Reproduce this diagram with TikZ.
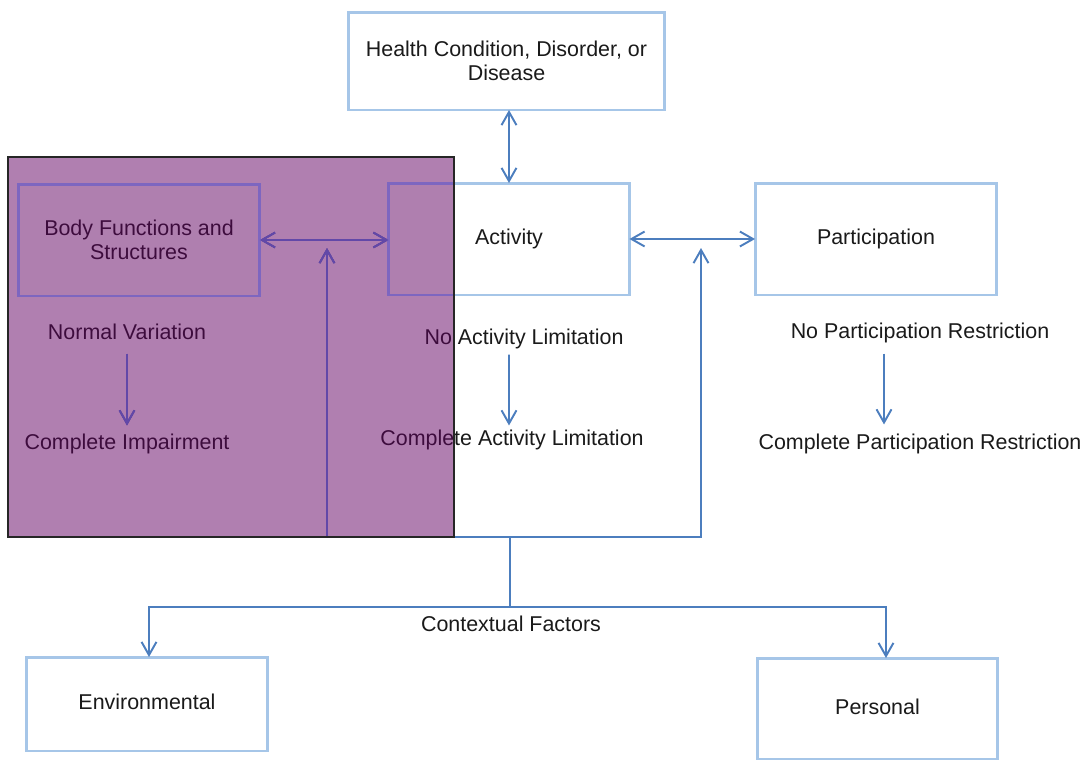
\documentclass[tikz,border=0pt]{standalone}
\usepackage{fontspec}
\setmainfont{Liberation Sans}
\usetikzlibrary{arrows.meta}
\definecolor{boxblue}{RGB}{166,198,232}
\definecolor{linkblue}{RGB}{76,126,190}
\definecolor{veil}{RGB}{97,0,97}
\definecolor{veilborder}{RGB}{125,102,192}
\definecolor{veillink}{RGB}{98,72,168}
\definecolor{ink}{RGB}{26,26,26}
\begin{document}
\begin{tikzpicture}[x=0.02cm,y=-0.02cm,
  every node/.style={font=\fontsize{12.2}{13.7}\selectfont, text=ink},
  panel/.style={draw=boxblue, line width=1.7pt, fill=white, align=center, inner sep=0pt, outer sep=0pt},
  oneline/.style={text height=9pt, text depth=2.6pt},
  caption/.style={inner sep=0pt, oneline},
  link/.style={draw=linkblue, line width=1.1pt, line join=miter},
  tip/.style={-{Straight Barb[length=7.5pt,width=8.5pt]}},
  both/.style={{Straight Barb[length=7.5pt,width=8.5pt]}-{Straight Barb[length=7.5pt,width=8.5pt]}},
]
\useasboundingbox (0,0) rectangle (1082,761);

% boxes
\node[panel, minimum width=6.34cm, minimum height=1.96cm] (health) at (506.5,61) {Health Condition, Disorder, or\\Disease};
\node[panel, oneline, minimum width=4.82cm, minimum height=2.24cm] (activity) at (509,239) {Activity};
\node[panel, oneline, minimum width=4.84cm, minimum height=2.24cm] (participation) at (876,239) {Participation};
\node[panel, minimum width=4.84cm, minimum height=2.24cm] (body) at (139,240) {Body Functions and\\Structures};
\node[panel, oneline, minimum width=4.84cm, minimum height=1.88cm] (env) at (147,704) {Environmental};
\node[panel, oneline, minimum width=4.82cm, minimum height=2.02cm] (personal) at (877.5,708.5) {Personal};

% scale labels
\node[caption] (nv) at (127,334) {Normal Variation};
\node[caption] (ci) at (127,444) {Complete Impairment};
\node[caption] (nal) at (524,339) {No Activity Limitation};
\node[caption] (cal) at (512,440) {Complete Activity Limitation};
\node[caption] (npr) at (920,333) {No Participation Restriction};
\node[caption] (cpr) at (920,444) {Complete Participation Restriction};
\node[caption] (ctx) at (511,626) {Contextual Factors};

% bracket points
\coordinate (bl) at (327,537);
\coordinate (br) at (701,537);
\coordinate (bltip) at (327,248);
\coordinate (brtip) at (701,248);
\coordinate (hub) at (510,537);
\coordinate (split) at (510,607);
\coordinate (envfork) at (149,607);
\coordinate (perfork) at (886,607);

\newcommand\linkwork{%
  % interactions between the components
  \draw[link, both] (health.south -| activity.north) -- (activity.north);
  \draw[link, both] (body.east) -- (body.east -| activity.west);
  \draw[link, both] (activity.east) -- (participation.west);
  % ranges
  \draw[link, tip] ([yshift=-0.18cm]nv.south) -- ([yshift=0.16cm]ci.north);
  \draw[link, tip] ([xshift=-0.3cm,yshift=-0.1cm]nal.south) -- ([xshift=-0.06cm,yshift=0.08cm]cal.north);
  \draw[link, tip] ([xshift=-0.72cm,yshift=-0.2cm]npr.south) -- ([xshift=-0.72cm,yshift=0.18cm]cpr.north);
  % contextual factors bracket
  \draw[link, both] (bltip) -- (bl) -- (br) -- (brtip);
  \draw[link] (hub) -- (split);
  \draw[link, both] (envfork |- env.north) -- (envfork) -- (perfork) -- (perfork |- personal.north);
}
\linkwork

% translucent highlight over the body level
\fill[veil, opacity=0.5] (8,157) rectangle (454,537);
\begin{scope}
  \clip (8,157) rectangle (454,537);
  \draw[veilborder, line width=1.7pt] (body.north west) rectangle (body.south east);
  \draw[veilborder, line width=1.7pt] (activity.north west) rectangle (activity.south east);
  \tikzset{link/.style={draw=veillink, line width=1.1pt, line join=miter}}
  \linkwork
\end{scope}
\draw[black!85, line width=0.8pt] (8,157) rectangle (454,537);
\end{tikzpicture}
\end{document}
